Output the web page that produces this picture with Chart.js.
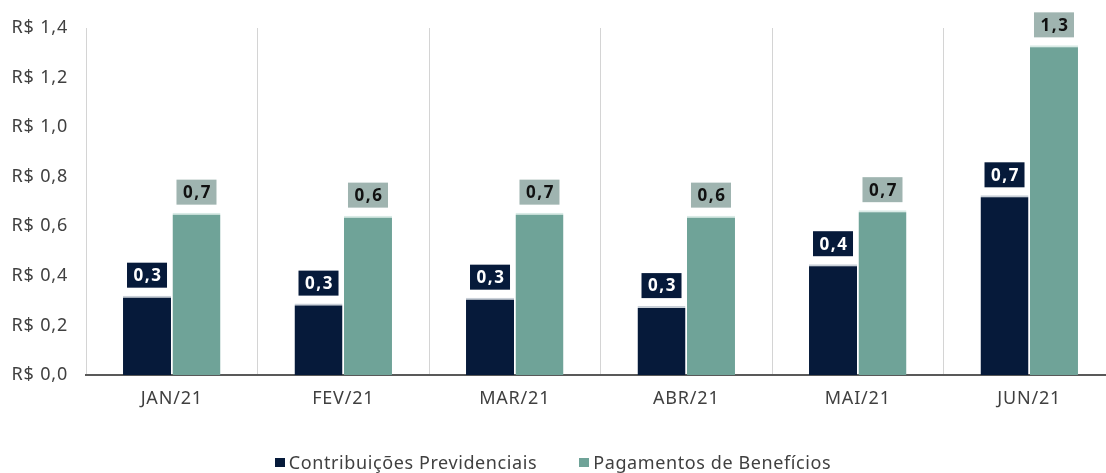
<!DOCTYPE html>
<html>
<head>
<meta charset="utf-8">
<script src="https://cdn.jsdelivr.net/npm/chart.js"></script>
<style>
  html, body { margin: 0; padding: 0; background: #fff; overflow: hidden; }
  #wrap { position: relative; width: 1106px; height: 473px; overflow: hidden; }
  #legend {
    position: absolute; left: 0; width: 1106px; top: 450px;
    display: flex; justify-content: center; gap: 42px;
    font-family: 'Noto Sans', sans-serif; font-size: 18px; color: #404040;
    letter-spacing: 0.6px;
  }
  #legend span.item { display: inline-flex; align-items: center; gap: 4px; }
  #legend span.box { display: inline-block; width: 10px; height: 9px; }
</style>
</head>
<body>
<div id="wrap">
  <canvas id="chart" width="1120" height="473"></canvas>
  <div id="legend"></div>
</div>
<script>
const months = ['JAN/21', 'FEV/21', 'MAR/21', 'ABR/21', 'MAI/21', 'JUN/21'];
const contribuicoes = [0.32, 0.288, 0.312, 0.278, 0.447, 0.725];
const pagamentos = [0.655, 0.643, 0.655, 0.643, 0.665, 1.33];
const contribLabels = ['0,3', '0,3', '0,3', '0,3', '0,4', '0,7'];
const pagLabels = ['0,7', '0,6', '0,7', '0,6', '0,7', '1,3'];
const yTicks = ['R$ 0,0', 'R$ 0,2', 'R$ 0,4', 'R$ 0,6', 'R$ 0,8', 'R$ 1,0', 'R$ 1,2', 'R$ 1,4'];
const seriesNames = ['Contribuições Previdenciais', 'Pagamentos de Benefícios'];

const NAVY = '#061a3a';
const TEAL = '#6fa398';
const TAG_GRAY = '#9fb4b0';
const FONT = "'Noto Sans', sans-serif";

// a bit of letter spacing like the original axis text
const spacingPlugin = {
  id: 'spacing',
  beforeLayout(chart) { if ('letterSpacing' in chart.ctx) chart.ctx.letterSpacing = '0.8px'; },
  beforeDraw(chart) { if ('letterSpacing' in chart.ctx) chart.ctx.letterSpacing = '0.8px'; }
};

// value tags drawn above each bar
const tagPlugin = {
  id: 'tags',
  afterDatasetsDraw(chart) {
    const ctx = chart.ctx;
    const tagSets = [contribLabels, pagLabels];
    chart.data.datasets.forEach((ds, di) => {
      const meta = chart.getDatasetMeta(di);
      meta.data.forEach((bar, i) => {
        const w = 40, h = 25;
        const x = bar.x - w / 2;
        const y = bar.y - 8 - h;
        ctx.save();
        ctx.fillStyle = di === 0 ? NAVY : TAG_GRAY;
        ctx.fillRect(x, y, w, h);
        ctx.fillStyle = di === 0 ? '#ffffff' : '#111111';
        ctx.font = "bold 17px " + FONT;
        ctx.textAlign = 'center';
        ctx.textBaseline = 'middle';
        if ('letterSpacing' in ctx) ctx.letterSpacing = '1.5px';
        ctx.fillText(tagSets[di][i], bar.x + 1, y + h / 2 + 1);
        ctx.restore();
      });
    });
  }
};

const chart = new Chart(document.getElementById('chart'), {
  type: 'bar',
  data: {
    labels: months,
    datasets: [
      {
        label: seriesNames[0],
        data: contribuicoes,
        backgroundColor: NAVY,
        borderColor: '#c9d0d8',
        borderWidth: { top: 2, left: 0, right: 0, bottom: 0 },
        borderSkipped: false,
        barPercentage: 0.97,
        categoryPercentage: 0.577
      },
      {
        label: seriesNames[1],
        data: pagamentos,
        backgroundColor: TEAL,
        borderColor: '#d9ebe6',
        borderWidth: { top: 2, left: 0, right: 0, bottom: 0 },
        borderSkipped: false,
        barPercentage: 0.97,
        categoryPercentage: 0.577
      }
    ]
  },
  options: {
    responsive: false,
    animation: false,
    devicePixelRatio: 1,
    layout: { padding: { top: 28, right: 5, left: 0, bottom: 0 } },
    plugins: {
      legend: { display: false },
      tooltip: { enabled: false }
    },
    scales: {
      x: {
        offset: true,
        grid: { display: true, offset: true, color: '#d4d4d4', lineWidth: 1, drawTicks: false },
        border: { display: true, color: '#595959', width: 2 },
        ticks: { color: '#404040', font: { family: FONT, size: 18 }, padding: 13 },
        afterFit(s) { s.height = 98; }
      },
      y: {
        min: 0,
        max: 1.4,
        grid: { display: false },
        border: { display: false },
        ticks: {
          stepSize: 0.2,
          color: '#404040',
          font: { family: FONT, size: 18 },
          padding: 10,
          callback: (v, i) => yTicks[i]
        },
        afterFit(s) { s.width = 86; }
      }
    }
  },
  plugins: [spacingPlugin, tagPlugin]
});

// html legend
const legend = document.getElementById('legend');
[NAVY, TEAL].forEach((c, i) => {
  const item = document.createElement('span');
  item.className = 'item';
  const box = document.createElement('span');
  box.className = 'box';
  box.style.background = c;
  const t = document.createElement('span');
  t.textContent = seriesNames[i];
  item.appendChild(box);
  item.appendChild(t);
  legend.appendChild(item);
});
</script>
</body>
</html>
